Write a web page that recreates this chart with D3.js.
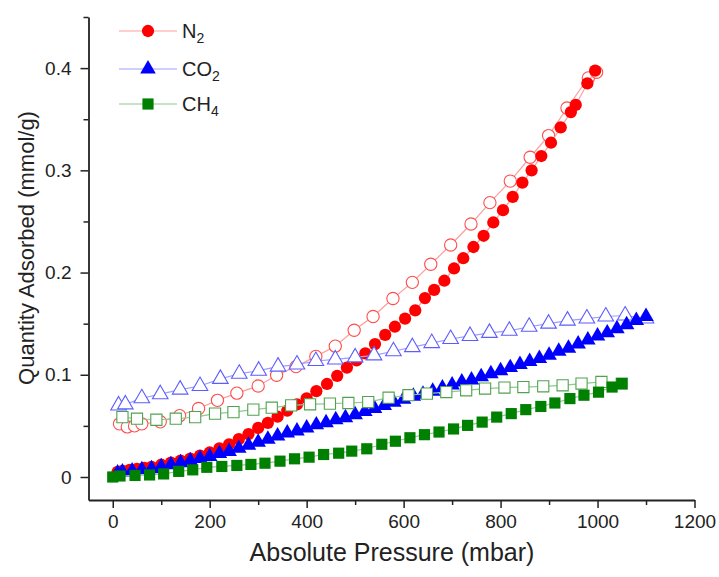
<!DOCTYPE html>
<html lang="en">
<head>
    <meta charset="UTF-8">
    <title>Gas adsorption isotherms</title>
    <script src="https://cdnjs.cloudflare.com/ajax/libs/d3/7.8.5/d3.min.js"></script>
    <style>
        body { margin: 0; background: #fff; font-family: "Liberation Sans", Arial, sans-serif; }
        svg { display: block; }
        .axis path, .axis line { stroke: #222; }
        .axis text { font-family: "Liberation Sans", Arial, sans-serif; fill: #222; }
    </style>
</head>
<body>
<svg id="chart" width="719" height="577"></svg>

<script>
    // N2 - adsorption (filled) and desorption (open), mbar / mmol/g
    const n2AdsP = [10, 20, 35, 50, 65, 80, 100, 120, 140, 160, 180, 200, 220, 240, 260, 280, 300, 320, 340, 360,
        380, 400, 420, 442, 463, 483, 503, 521, 541, 562, 582, 603, 624, 644, 663, 684, 704, 723, 744, 765,
        785, 805, 825, 845, 864, 884, 904, 924, 945, 955, 979, 995];
    const n2AdsQ = [0.005, 0.006, 0.007, 0.008, 0.009, 0.010, 0.012, 0.014, 0.016, 0.018, 0.021, 0.024, 0.028, 0.032, 0.037, 0.042, 0.048, 0.053, 0.059, 0.065,
        0.071, 0.077, 0.084, 0.091, 0.099, 0.107, 0.114, 0.121, 0.130, 0.139, 0.147, 0.155, 0.163, 0.175, 0.183, 0.192, 0.204, 0.214, 0.225, 0.236,
        0.249, 0.261, 0.274, 0.288, 0.300, 0.314, 0.327, 0.342, 0.357, 0.364, 0.385, 0.3975];
    const n2DesP = [14, 30, 45, 60, 98, 138, 177, 216, 256, 300, 338, 378, 419, 459, 498, 537, 578, 618, 656, 697,
        739, 778, 820, 861, 899, 937, 981, 998];
    const n2DesQ = [0.052, 0.049, 0.050, 0.052, 0.054, 0.060, 0.067, 0.075, 0.082, 0.089, 0.0995, 0.108, 0.118, 0.128, 0.1436, 0.157, 0.1746, 0.1904, 0.2081, 0.227,
        0.2475, 0.2684, 0.2895, 0.3128, 0.334, 0.361, 0.3904, 0.396];

    // CO2
    const co2AdsP = [10, 20, 40, 60, 80, 100, 120, 140, 160, 180, 200, 220, 240, 260, 280, 300, 320, 340, 360, 380,
        400, 420, 440, 460, 480, 500, 520, 540, 560, 580, 600, 620, 640, 660, 680, 700, 720, 740, 760, 780,
        800, 820, 840, 860, 880, 900, 920, 940, 960, 980, 1000, 1020, 1040, 1060, 1080, 1100];
    const co2AdsQ = [0.004, 0.005, 0.006, 0.007, 0.008, 0.010, 0.012, 0.014, 0.016, 0.018, 0.020, 0.023, 0.025, 0.028, 0.031, 0.034, 0.037, 0.040, 0.043, 0.045,
        0.048, 0.051, 0.053, 0.056, 0.058, 0.061, 0.064, 0.067, 0.070, 0.073, 0.076, 0.079, 0.081, 0.084, 0.087, 0.090, 0.093, 0.095, 0.098, 0.101,
        0.104, 0.107, 0.110, 0.113, 0.116, 0.119, 0.123, 0.126, 0.130, 0.134, 0.138, 0.141, 0.145, 0.149, 0.153, 0.157];
    const co2DesP = [12, 26, 60, 98, 139, 180, 222, 261, 301, 341, 380, 419, 459, 500, 539, 579, 618, 658, 697, 737,
        777, 818, 859, 899, 938, 978, 1017, 1057, 1100];
    const co2DesQ = [0.070, 0.071, 0.077, 0.081, 0.0855, 0.089, 0.096, 0.101, 0.104, 0.108, 0.110, 0.1135, 0.115, 0.117, 0.119, 0.123, 0.127, 0.131, 0.135, 0.138,
        0.141, 0.143, 0.147, 0.150, 0.153, 0.155, 0.157, 0.158, 0.155];

    // CH4
    const ch4AdsP = [0, 15, 46, 76, 105, 136, 165, 194, 225, 256, 285, 314, 345, 375, 405, 435, 466, 493, 524, 555,
        583, 613, 643, 673, 703, 732, 762, 792, 822, 852, 883, 912, 943, 972, 1002, 1030, 1050];
    const ch4AdsQ = [0, 0.001, 0.0015, 0.002, 0.003, 0.0055, 0.007, 0.0095, 0.0103, 0.0113, 0.0123, 0.0135, 0.0155, 0.0178, 0.0194, 0.022, 0.0233, 0.0253, 0.0276, 0.032,
        0.035, 0.0384, 0.0414, 0.044, 0.047, 0.0505, 0.0537, 0.0586, 0.062, 0.0659, 0.069, 0.0724, 0.0767, 0.080, 0.083, 0.088, 0.0914];
    const ch4DesP = [20, 50, 90, 130, 170, 211, 249, 290, 328, 368, 407, 448, 486, 527, 569, 610, 648, 688, 729, 768,
        808, 847, 888, 928, 967, 1008, 1050];
    const ch4DesQ = [0.0586, 0.057, 0.056, 0.057, 0.0586, 0.062, 0.0635, 0.0659, 0.0678, 0.0701, 0.0711, 0.0718, 0.0724, 0.0733, 0.0776, 0.080, 0.0816, 0.0831, 0.0848, 0.0865,
        0.0875, 0.088, 0.0887, 0.0897, 0.0914, 0.093, 0.0914];

    const gases = ["N2", "CO2", "CH4"];
    const xTicks = [0, 200, 400, 600, 800, 1000, 1200];
    const yTicks = [0, 0.1, 0.2, 0.3, 0.4];

    const svg = d3.select("#chart");

    const x = d3.scaleLinear().domain([-50, 1200]).range([88.5, 694.5]);
    const y = d3.scaleLinear().domain([-0.0225, 0.45]).range([500, 17]);

    const zip = (ps, qs) => ps.map((p, i) => [p, qs[i]]);

    // symbol per gas, colours for filled / open / connecting line
    const styles = {
        N2:  { symbol: d3.symbolCircle,   size: 118, fill: "#ff0000", open: "#ff4d4d", line: "#ff9e9e" },
        CO2: { symbol: d3.symbolTriangle, size: 105, fill: "#0000ff", open: "#5c5cff", line: "#9e9eff" },
        CH4: { symbol: d3.symbolSquare,   size: 125, fill: "#008000", open: "#4fa34f", line: "#8ec98e" }
    };

    const series = [
        { gas: "N2",  filled: false, pts: zip(n2DesP, n2DesQ) },
        { gas: "N2",  filled: true,  pts: zip(n2AdsP, n2AdsQ) },
        { gas: "CO2", filled: false, pts: zip(co2DesP, co2DesQ) },
        { gas: "CO2", filled: true,  pts: zip(co2AdsP, co2AdsQ) },
        { gas: "CH4", filled: false, pts: zip(ch4DesP, ch4DesQ) },
        { gas: "CH4", filled: true,  pts: zip(ch4AdsP, ch4AdsQ) }
    ];

    // axes: major ticks with labels, minor ticks in between
    const xAxis = svg.append("g").attr("class", "axis")
        .attr("transform", "translate(0,500)")
        .call(d3.axisBottom(x).tickValues(xTicks).tickFormat(d3.format("d")).tickSize(8).tickPadding(7).tickSizeOuter(0));
    svg.append("g").attr("class", "axis")
        .attr("transform", "translate(0,500)")
        .call(d3.axisBottom(x).tickValues([100, 300, 500, 700, 900, 1100]).tickFormat("").tickSize(5).tickSizeOuter(0))
        .select(".domain").remove();

    const yAxis = svg.append("g").attr("class", "axis")
        .attr("transform", "translate(88.5,0)")
        .call(d3.axisLeft(y).tickValues(yTicks).tickFormat(d => d === 0 ? "0" : d3.format(".1f")(d)).tickSize(8).tickPadding(9).tickSizeOuter(0));
    svg.append("g").attr("class", "axis")
        .attr("transform", "translate(88.5,0)")
        .call(d3.axisLeft(y).tickValues([0.05, 0.15, 0.25, 0.35, 0.45]).tickFormat("").tickSize(5).tickSizeOuter(0))
        .select(".domain").remove();

    svg.selectAll(".axis .domain").attr("stroke-width", 1.8);
    svg.selectAll(".axis .tick line").attr("stroke-width", 1.5);
    xAxis.selectAll("text").attr("font-size", 19);
    yAxis.selectAll("text").attr("font-size", 19);

    svg.append("text")
        .attr("x", 392).attr("y", 561)
        .attr("text-anchor", "middle")
        .attr("font-size", 25).attr("fill", "#222")
        .text("Absolute Pressure (mbar)");
    svg.append("text")
        .attr("transform", "translate(34,248) rotate(-90)")
        .attr("text-anchor", "middle")
        .attr("font-size", 22).attr("fill", "#222")
        .text("Quantity Adsorbed (mmol/g)");

    const line = d3.line().x(d => x(d[0])).y(d => y(d[1]));
    const plot = svg.append("g");

    series.forEach(s => {
        const st = styles[s.gas];
        const g = plot.append("g");
        g.append("path")
            .attr("d", line(s.pts))
            .attr("fill", "none")
            .attr("stroke", st.line)
            .attr("stroke-width", 1.2);
        g.selectAll("path.mark")
            .data(s.pts)
            .join("path")
            .attr("class", "mark")
            .attr("transform", d => `translate(${x(d[0])},${y(d[1])})`)
            .attr("d", d3.symbol().type(st.symbol).size(st.size))
            .attr("fill", s.filled ? st.fill : "#fff")
            .attr("stroke", s.filled ? "none" : st.open)
            .attr("stroke-width", 1.1);
    });

    // legend
    const legend = svg.append("g");
    const legendY = [31, 69, 104];
    gases.forEach((gas, i) => {
        const st = styles[gas];
        const ly = legendY[i];
        legend.append("line")
            .attr("x1", 119).attr("x2", 177).attr("y1", ly).attr("y2", ly)
            .attr("stroke", st.line).attr("stroke-width", 1.2);
        legend.append("path")
            .attr("transform", `translate(148,${ly})`)
            .attr("d", d3.symbol().type(st.symbol).size(st.size)())
            .attr("fill", st.fill);
        const t = legend.append("text")
            .attr("x", 182).attr("y", ly + 7)
            .attr("font-size", 20).attr("fill", "#222");
        const base = gas.replace(/\d+$/, "");
        const sub = gas.slice(base.length);
        t.append("tspan").text(base);
        t.append("tspan").attr("font-size", 14).attr("dy", 5).text(sub);
    });
</script>
</body>
</html>
